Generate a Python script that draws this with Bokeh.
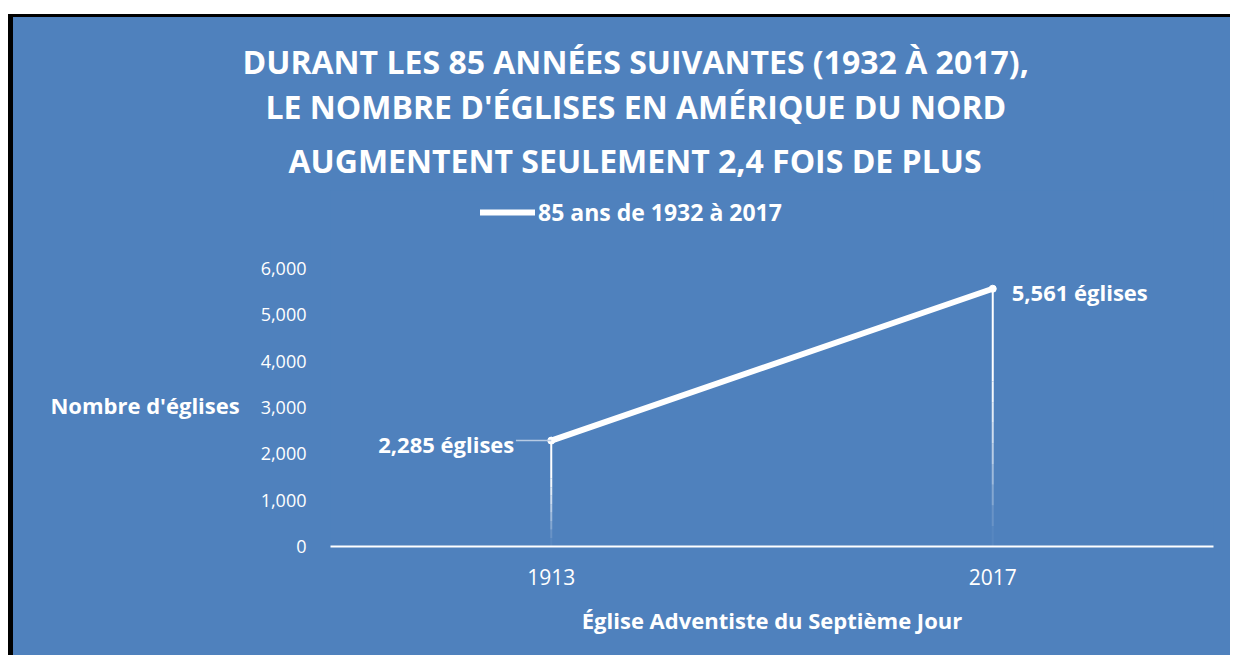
from bokeh.plotting import figure
from bokeh.models import (ColumnDataSource, NumeralTickFormatter, Legend, LegendItem,
                          FixedTicker, Range1d, FactorRange, Title)
from bokeh.transform import dodge
from bokeh.core.properties import value
from bokeh.embed import file_html
from bokeh.resources import INLINE

years = ["1913", "2017"]
churches = [2285, 5561]
labels = ["2,285 églises", "5,561 églises"]
title_lines = ["DURANT LES 85 ANNÉES SUIVANTES (1932 À 2017),",
               "LE NOMBRE D'ÉGLISES EN AMÉRIQUE DU NORD",
               "AUGMENTENT SEULEMENT 2,4 FOIS DE PLUS"]
series_name = "85 ans de 1932 à 2017"
x_title = "Église Adventiste du Septième Jour"
y_title = "Nombre d'églises"
y_ticks = [0, 1000, 2000, 3000, 4000, 5000, 6000]

BLUE = "#4F81BD"
FONT = "Open Sans"

p = figure(x_range=FactorRange(factors=years, range_padding=0), y_range=Range1d(0, 7680),
           width=1222, height=641, output_backend="svg", toolbar_location=None,
           min_border_left=317, min_border_right=22, min_border_top=173, min_border_bottom=112)
p.styles = {"margin-left": "8px", "margin-top": "14px", "background-color": BLUE,
            "border-left": "5px solid black", "border-top": "3px solid black"}

p.background_fill_color = BLUE
p.border_fill_color = BLUE
p.outline_line_color = None
p.grid.visible = False

# title: one line per Title, each centred over the chart area via a left offset
title_offsets = [-88, -65, -42]
title_style = dict(align="left", text_color="white", text_font=FONT,
                   text_font_style="bold", text_font_size="32px")
# the figure's own title is the outermost (top) line
p.title.text = title_lines[0]
p.title.offset = title_offsets[0]
p.title.standoff = 0
for k, v in title_style.items():
    setattr(p.title, k, v)
# added titles: the first one added sits closest to the plot area
p.add_layout(Title(text=title_lines[2], offset=title_offsets[2], standoff=18, **title_style), "above")
p.add_layout(Title(text=title_lines[1], offset=title_offsets[1], standoff=0, **title_style), "above")

src = ColumnDataSource(dict(x=years, y=churches))

# drop lines, fading towards the axis
steps = [(0.0, 0.08, 0.05), (0.08, 0.16, 0.15), (0.16, 0.24, 0.3), (0.24, 0.32, 0.45),
         (0.32, 0.40, 0.6), (0.40, 0.48, 0.72), (0.48, 0.56, 0.84), (0.56, 0.64, 0.94),
         (0.64, 1.0, 1.0)]
for lo, hi, a in steps:
    p.segment(x0=years, x1=years, y0=[v * lo for v in churches], y1=[v * hi for v in churches],
              line_color="white", line_width=2, line_alpha=a, line_cap="butt")

line = p.line("x", "y", source=src, line_color="white", line_width=6, line_cap="round")
p.scatter("x", "y", source=src, size=7, color="white")

# leader line for the first label
p.segment(x0=dodge("x", -0.08, range=p.x_range), x1="x", y0="y", y1="y",
          source=ColumnDataSource(dict(x=years[:1], y=churches[:1])),
          line_color="#B8CBE4", line_width=1.5)

p.text(x=years[:1], y=churches[:1], text=labels[:1], x_offset=-37, y_offset=3,
       text_align="right", text_baseline="middle", text_color="white",
       text_font=value(FONT), text_font_style="bold", text_font_size="22px")
p.text(x=years[1:], y=churches[1:], text=labels[1:], x_offset=19, y_offset=3,
       text_align="left", text_baseline="middle", text_color="white",
       text_font=value(FONT), text_font_style="bold", text_font_size="22px")

legend = Legend(items=[LegendItem(label=series_name, renderers=[line])],
                location=(140, 308), orientation="horizontal",
                background_fill_alpha=0, border_line_alpha=0,
                label_text_color="white", label_text_font=FONT, label_text_font_style="bold",
                label_text_font_size="23px", glyph_width=55, glyph_height=20, label_standoff=3)
p.add_layout(legend)

p.yaxis.ticker = FixedTicker(ticks=y_ticks)
p.yaxis.formatter = NumeralTickFormatter(format="0,0")
p.yaxis.axis_line_color = None
p.yaxis.major_tick_line_color = None
p.yaxis.minor_tick_line_color = None
p.yaxis.major_label_text_color = "white"
p.yaxis.major_label_text_font = FONT
p.yaxis.major_label_text_font_size = "18px"
p.yaxis.major_label_standoff = 18
# leading blank lines lower the horizontal title to the 3,000 level
p.yaxis.axis_label = "\n\n" + y_title
p.yaxis.axis_label_orientation = "horizontal"
p.yaxis.axis_label_text_color = "white"
p.yaxis.axis_label_text_font = FONT
p.yaxis.axis_label_text_font_style = "bold"
p.yaxis.axis_label_text_font_size = "22px"
p.yaxis.axis_label_standoff = 18

p.xaxis.axis_line_color = "white"
p.xaxis.axis_line_width = 2
p.xaxis.major_tick_line_color = None
p.xaxis.minor_tick_line_color = None
p.xaxis.major_label_text_color = "white"
p.xaxis.major_label_text_font = FONT
p.xaxis.major_label_text_font_size = "21px"
p.xaxis.major_label_standoff = 16
p.xaxis.axis_label = x_title
p.xaxis.axis_label_text_color = "white"
p.xaxis.axis_label_text_font = FONT
p.xaxis.axis_label_text_font_style = "bold"
p.xaxis.axis_label_text_font_size = "22px"
p.xaxis.axis_label_standoff = 17

open("out.html", "w").write(file_html(p, INLINE))
